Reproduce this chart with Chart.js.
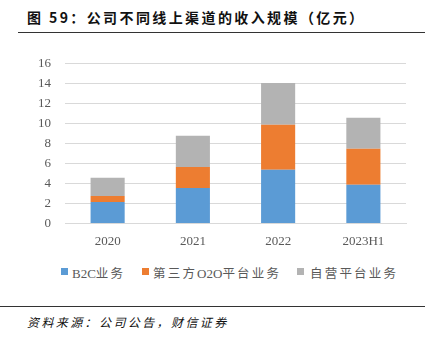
<!DOCTYPE html>
<html>
<head>
<meta charset="utf-8">
<script src="https://cdn.jsdelivr.net/npm/chart.js@4"></script>
<style>
  html, body { margin: 0; padding: 0; background: #fff; }
  body { width: 431px; height: 344px; position: relative; overflow: hidden; }
  #title {
    position: absolute; left: 27px; top: 7px;
    font: bold 14px "Noto Sans CJK SC", sans-serif; color: #111; letter-spacing: 2.4px;
  }
  #topRule { position: absolute; left: 18px; top: 32px; width: 407px; height: 0; border-top: 1.5px solid #333; }
  #bottomRule { position: absolute; left: 0; top: 306px; width: 425px; height: 0; border-top: 1.5px solid #333; }
  #source {
    position: absolute; left: 27px; top: 313px;
    font: italic 12px "Noto Sans CJK SC", sans-serif; color: #111; letter-spacing: 2.4px;
  }
  #wrap { position: absolute; left: 0; top: 42px; width: 431px; height: 209px; }
  .lg-box { position: absolute; top: 268px; width: 7px; height: 7px; }
  .lg-text {
    position: absolute; top: 263px; white-space: nowrap;
    font: 13px "Liberation Serif", "Noto Sans CJK SC", serif; color: #595959;
  }
  .cjk { letter-spacing: 2.2px; font-size: 12.5px; }
</style>
</head>
<body>
<div id="title">图 59：公司不同线上渠道的收入规模（亿元）</div>
<div id="topRule"></div>
<div id="wrap"><canvas id="chart"></canvas></div>
<div id="legend"></div>
<div id="bottomRule"></div>
<div id="source">资料来源：公司公告，财信证券</div>
<script>
// 收入规模（亿元），按渠道堆叠
const years = ['2020', '2021', '2022', '2023H1'];
const b2c = [2.15, 3.54, 5.37, 3.88];
const o2o = [0.60, 2.12, 4.53, 3.61];
const selfRun = [1.82, 3.12, 4.18, 3.11];
const seriesNames = ['B2C业务', '第三方O2O平台业务', '自营平台业务'];
const colors = ['#5B9BD5', '#ED7D31', '#B3B3B3'];

const FONT = '"Liberation Serif", "Noto Sans CJK SC", serif';

// 图例：手工排版，汉字加字距
const legendX = [61, 142, 297];
const legendEl = document.getElementById('legend');
seriesNames.forEach((name, i) => {
  const box = document.createElement('div');
  box.className = 'lg-box';
  box.style.left = legendX[i] + 'px';
  box.style.background = colors[i];
  legendEl.appendChild(box);

  const txt = document.createElement('div');
  txt.className = 'lg-text';
  txt.style.left = (legendX[i] + 11 + (i === 2 ? 2 : 0)) + 'px';
  txt.innerHTML = name.replace(/([^\x00-\x7f]+)/g, '<span class="cjk">$1</span>');
  legendEl.appendChild(txt);
});

new Chart(document.getElementById('chart'), {
  type: 'bar',
  data: {
    labels: years,
    datasets: [
      { label: seriesNames[0], data: b2c, backgroundColor: colors[0] },
      { label: seriesNames[1], data: o2o, backgroundColor: colors[1] },
      { label: seriesNames[2], data: selfRun, backgroundColor: colors[2] },
    ],
  },
  options: {
    responsive: true,
    maintainAspectRatio: false,
    animation: false,
    datasets: { bar: { categoryPercentage: 1, barPercentage: 0.4 } },
    layout: { padding: { left: 24, right: 25, top: 4, bottom: 0 } },
    plugins: {
      tooltip: { enabled: false },
      legend: { display: false },
    },
    scales: {
      x: {
        stacked: true,
        grid: { display: false },
        border: { color: '#D9D9D9' },
        ticks: { color: '#595959', font: { family: FONT, size: 13 }, padding: 2 },
      },
      y: {
        stacked: true,
        min: 0, max: 16,
        ticks: { stepSize: 2, color: '#595959', font: { family: FONT, size: 13 }, padding: 14 },
        grid: { color: '#D9D9D9', drawTicks: false },
        border: { display: false },
      },
    },
  },
});
</script>
</body>
</html>
